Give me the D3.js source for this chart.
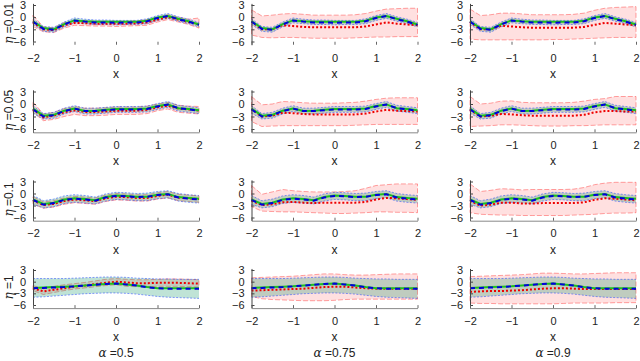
<!DOCTYPE html>
<html><head><meta charset="utf-8">
<script src="https://cdn.jsdelivr.net/npm/d3@7"></script>
<style>
body{margin:0;background:#fff}
svg{display:block}
text{font-family:"Liberation Sans",Arial,Helvetica,sans-serif;fill:#222}
</style>
</head><body>
<svg id="chart" width="640" height="361"></svg>
<script>
// ---------- data ----------
const xs = [-2,-1.75,-1.5,-1.25,-1,-0.75,-0.5,-0.25,0,0.25,0.5,0.75,1,1.25,1.5,1.75,2];
const xTicks = [-2,-1,0,1,2];
const yTicks = [3,0,-3,-6];
const etaLabels = ["0.01","0.05","0.1","1"];
const alphaLabels = ["0.5","0.75","0.9"];

// row 1 (eta = 0.01)
const green1  = [-1.0,-2.7,-3.0,-1.7,-0.8,-1.0,-1.1,-1.1,-1.1,-1.1,-1.1,-0.9,-0.1,0.3,-0.4,-1.0,-1.8];
const blue1   = [-1.1,-2.9,-3.1,-1.8,-0.8,-1.1,-1.3,-1.3,-1.4,-1.3,-1.3,-1.0,-0.2,0.3,-0.5,-1.1,-1.9];
const blueLo1 = [-1.8,-3.5,-3.7,-2.4,-1.4,-1.6,-1.8,-1.8,-1.9,-1.8,-1.8,-1.6,-0.8,-0.3,-1.0,-1.6,-2.4];
const blueHi1 = [-0.4,-2.3,-2.5,-1.2,-0.2,-0.5,-0.7,-0.7,-0.8,-0.8,-0.8,-0.4,0.4,0.9,0.1,-0.5,-1.3];
const red1a   = [-1.3,-3.0,-3.2,-2.0,-1.4,-1.5,-1.6,-1.6,-1.6,-1.6,-1.5,-1.3,-0.6,0.0,-0.6,-1.2,-1.8];
const redLo1a = [-2.3,-3.6,-3.8,-2.7,-2.0,-2.1,-2.2,-2.2,-2.3,-2.2,-2.1,-2.0,-1.2,-0.6,-1.2,-1.8,-2.7];
const redHi1a = [0.5,-2.4,-2.6,-1.3,-0.8,-0.9,-1.0,-1.0,-1.0,-1.0,-0.9,-0.6,0.0,0.6,0.0,-0.5,-0.2];
const red1b   = [-1.1,-3.0,-3.0,-2.0,-2.2,-2.4,-2.5,-2.5,-2.5,-2.5,-2.5,-2.3,-1.8,-1.3,-1.6,-1.8,-2.0];
const redLo1b = [-4.4,-5.0,-5.1,-5.0,-5.0,-5.1,-5.2,-5.2,-5.2,-5.2,-5.1,-5.0,-4.9,-4.9,-4.8,-4.8,-4.8];
const redHi1b = [1.8,0.3,0.5,0.8,0.9,0.7,0.5,0.5,0.5,0.5,0.6,0.9,1.5,2.0,2.1,2.2,2.2];
const red1c   = [-1.2,-3.0,-3.0,-2.1,-2.3,-2.5,-2.6,-2.6,-2.6,-2.6,-2.6,-2.4,-1.9,-1.4,-1.6,-1.8,-2.0];
const redLo1c = [-5.4,-5.6,-5.6,-5.6,-5.6,-5.6,-5.6,-5.6,-5.5,-5.5,-5.4,-5.3,-5.2,-5.1,-5.0,-5.0,-5.0];
const redHi1c = [2.0,0.4,0.6,1.0,1.0,0.8,0.6,0.6,0.6,0.6,0.7,1.0,1.7,2.2,2.4,2.5,2.6];

// row 2 (eta = 0.05)
const green2  = [-1.1,-2.8,-2.6,-1.6,-1.1,-1.7,-1.6,-1.4,-1.2,-1.2,-1.2,-1.1,-0.5,-0.1,-1.0,-1.2,-1.5];
const blue2   = [-1.3,-3.0,-2.7,-1.7,-1.1,-1.7,-1.7,-1.5,-1.3,-1.3,-1.3,-1.2,-0.6,-0.1,-1.0,-1.3,-1.6];
const blueLo2 = [-2.2,-3.6,-3.4,-2.4,-1.8,-2.4,-2.4,-2.2,-2.0,-2.0,-2.0,-1.9,-1.3,-0.8,-1.7,-2.0,-2.3];
const blueHi2 = [-0.4,-2.3,-2.0,-1.0,-0.4,-1.0,-1.0,-0.8,-0.6,-0.6,-0.6,-0.5,0.1,0.6,-0.3,-0.6,-0.9];
const red2a   = [-1.3,-3.2,-2.8,-2.0,-1.5,-1.9,-1.9,-1.8,-1.6,-1.6,-1.6,-1.4,-0.8,-0.4,-1.1,-1.3,-1.6];
const redLo2a = [-2.0,-4.0,-3.7,-3.0,-2.5,-2.8,-2.8,-2.7,-2.5,-2.5,-2.5,-2.3,-1.6,-1.2,-2.0,-2.2,-2.4];
const redHi2a = [0.5,-2.4,-2.0,-1.1,-0.6,-1.0,-1.0,-0.9,-0.7,-0.7,-0.7,-0.5,0.0,0.4,-0.3,-0.5,-0.6];
const red2b   = [-1.2,-3.0,-2.8,-2.1,-2.2,-2.4,-2.5,-2.5,-2.5,-2.5,-2.5,-2.3,-1.8,-1.4,-1.6,-1.7,-1.8];
const redLo2b = [-4.2,-5.4,-5.3,-5.2,-5.2,-5.2,-5.2,-5.2,-5.2,-5.2,-5.1,-5.0,-4.9,-4.9,-4.9,-4.9,-4.9];
const redHi2b = [1.8,-0.2,0.0,0.6,0.5,0.3,0.2,0.2,0.2,0.3,0.4,0.7,1.1,1.4,1.5,1.5,1.5];
const red2c   = [-1.4,-3.0,-2.8,-2.4,-2.5,-2.7,-2.8,-2.8,-2.8,-2.8,-2.8,-2.6,-2.0,-1.7,-1.7,-1.8,-1.8];
const redLo2c = [-5.4,-5.3,-5.2,-5.0,-5.0,-5.1,-5.2,-5.3,-5.3,-5.3,-5.2,-5.2,-5.1,-5.0,-5.0,-5.0,-5.0];
const redHi2c = [1.8,0.0,0.2,0.7,0.75,0.4,0.3,0.3,0.3,0.3,0.4,0.7,1.1,1.3,1.8,1.8,1.8];

// row 3 (eta = 0.1)
const green3  = [-1.5,-2.6,-2.3,-1.5,-1.2,-1.4,-1.7,-0.9,-0.5,-0.6,-0.8,-0.8,-0.3,-0.1,-0.9,-1.1,-1.3];
const blue3   = [-1.6,-2.8,-2.4,-1.6,-1.3,-1.5,-1.8,-1.0,-0.6,-0.7,-0.9,-0.8,-0.4,-0.2,-1.0,-1.3,-1.5];
const blueLo3 = [-2.7,-3.6,-3.3,-2.5,-2.2,-2.4,-2.6,-1.9,-1.5,-1.6,-1.8,-1.8,-1.3,-1.1,-1.9,-2.2,-2.4];
const blueHi3 = [-0.5,-1.8,-1.4,-0.6,-0.3,-0.5,-0.9,-0.1,0.3,0.2,0.0,0.1,0.5,0.7,0.0,-0.3,-0.5];
const red3a   = [-1.7,-2.9,-2.6,-1.9,-1.5,-1.7,-1.9,-1.2,-0.8,-0.9,-1.1,-1.1,-0.6,-0.3,-1.0,-1.2,-1.4];
const redLo3a = [-2.6,-3.7,-3.4,-2.7,-2.3,-2.5,-2.7,-2.0,-1.6,-1.7,-1.9,-1.9,-1.4,-1.1,-1.8,-2.0,-2.2];
const redHi3a = [-0.8,-2.1,-1.8,-1.1,-0.7,-0.9,-1.1,-0.4,0.0,-0.1,-0.3,-0.3,0.2,0.5,-0.2,-0.4,-0.6];
const red3b   = [-1.8,-2.9,-2.7,-2.2,-2.1,-2.3,-2.4,-2.3,-2.3,-2.3,-2.3,-2.1,-1.5,-1.1,-1.2,-1.4,-1.6];
const redLo3b = [-3.3,-4.4,-4.5,-4.6,-4.6,-4.7,-4.8,-4.9,-5.0,-5.0,-4.9,-4.8,-4.6,-4.6,-4.7,-4.7,-4.8];
const redHi3b = [2.0,-0.2,0.4,1.0,0.7,0.5,0.4,0.4,0.4,0.5,0.7,1.3,2.0,2.2,2.4,2.4,2.4];
const red3c   = [-1.9,-3.0,-2.8,-2.3,-2.3,-2.5,-2.5,-2.4,-2.4,-2.4,-2.4,-2.2,-1.6,-1.2,-1.3,-1.5,-1.7];
const redLo3c = [-4.8,-5.2,-5.3,-5.4,-5.4,-5.5,-5.5,-5.5,-5.5,-5.5,-5.4,-5.3,-5.2,-5.0,-4.9,-4.9,-4.8];
const redHi3c = [2.4,0.5,0.8,1.2,1.1,0.9,1.0,1.0,1.0,1.0,1.1,1.5,2.2,2.6,2.8,2.8,2.8];

// row 4 (eta = 1)
const green4  = [-1.6,-1.5,-1.4,-1.3,-1.2,-1.0,-0.8,-0.6,-0.5,-0.7,-1.0,-1.4,-1.7,-1.7,-1.7,-1.7,-1.7];
const blue4   = [-1.7,-1.6,-1.5,-1.4,-1.2,-1.0,-0.8,-0.6,-0.5,-0.7,-1.0,-1.4,-1.7,-1.8,-1.8,-1.8,-1.8];
const blueLo4 = [-4.0,-3.9,-3.7,-3.5,-3.3,-3.1,-3.0,-2.9,-2.9,-3.0,-3.2,-3.5,-3.8,-4.0,-4.1,-4.2,-4.3];
const blueHi4 = [0.8,0.8,0.8,0.8,0.9,1.0,1.1,1.2,1.2,1.1,0.9,0.8,0.7,0.7,0.6,0.6,0.6];
const red4a   = [-1.7,-2.5,-2.1,-1.7,-1.3,-1.0,-0.6,-0.3,0.0,-0.2,-0.4,-0.4,-0.3,-0.3,-0.3,-0.4,-0.5];
const redLo4a = [-2.3,-3.3,-2.8,-2.3,-1.9,-1.6,-1.3,-1.0,-0.8,-1.2,-1.3,-1.3,-1.2,-1.2,-1.2,-1.3,-1.4];
const redHi4a = [-1.0,-1.8,-1.2,-0.8,-0.5,-0.2,0.2,0.6,0.8,0.6,0.5,0.5,0.6,0.7,0.7,0.6,0.5];
const red4b   = [-2.3,-2.2,-2.1,-2.0,-1.9,-1.8,-1.6,-1.4,-1.3,-1.3,-1.5,-1.7,-1.8,-1.8,-1.8,-1.8,-1.8];
const redLo4b = [-3.8,-4.4,-4.6,-4.7,-4.8,-4.9,-4.9,-4.9,-4.8,-4.6,-4.5,-4.5,-4.5,-4.5,-4.5,-4.5,-4.5];
const redHi4b = [1.0,1.1,1.2,1.3,1.4,1.6,1.8,2.0,2.0,1.8,1.7,1.7,1.8,1.9,2.0,2.0,2.0];
const red4c   = [-2.6,-2.5,-2.4,-2.4,-2.3,-2.2,-2.0,-1.8,-1.7,-1.7,-1.8,-1.9,-1.9,-1.9,-1.9,-1.9,-1.9];
const redLo4c = [-5.5,-5.6,-5.6,-5.7,-5.7,-5.7,-5.7,-5.7,-5.7,-5.6,-5.5,-5.5,-5.5,-5.5,-5.4,-5.4,-5.4];
const redHi4c = [1.3,1.4,1.5,1.6,1.7,1.8,2.0,2.2,2.2,2.1,2.0,2.0,2.1,2.2,2.3,2.3,2.3];

const rows = [
  {green:green1, blue:blue1, blueLo:blueLo1, blueHi:blueHi1,
   red:[[red1a,redLo1a,redHi1a],[red1b,redLo1b,redHi1b],[red1c,redLo1c,redHi1c]]},
  {green:green2, blue:blue2, blueLo:blueLo2, blueHi:blueHi2,
   red:[[red2a,redLo2a,redHi2a],[red2b,redLo2b,redHi2b],[red2c,redLo2c,redHi2c]]},
  {green:green3, blue:blue3, blueLo:blueLo3, blueHi:blueHi3,
   red:[[red3a,redLo3a,redHi3a],[red3b,redLo3b,redHi3b],[red3c,redLo3c,redHi3c]]},
  {green:green4, blue:blue4, blueLo:blueLo4, blueHi:blueHi4,
   red:[[red4a,redLo4a,redHi4a],[red4b,redLo4b,redHi4b],[red4c,redLo4c,redHi4c]]}
];

// ---------- layout ----------
const colLeft = [33, 251.5, 470];
const colWidth = 166;
const rowY3 = [5, 91.5, 181.5, 270];     // pixel of y=3
const rowY6 = [41.5, 129, 217.5, 305];   // pixel of y=-6
const yMin = -6.8, yMax = 3.4;

const svg = d3.select("#chart");

rows.forEach((row, ri) => {
  const k = (rowY6[ri] - rowY3[ri]) / 9;
  const py = v => rowY3[ri] + (3 - v) * k;
  const y = d3.scaleLinear().domain([yMin, yMax]).range([py(yMin), py(yMax)]);

  for (let ci = 0; ci < 3; ci++) {
    const x = d3.scaleLinear().domain([-2, 2]).range([colLeft[ci], colLeft[ci] + colWidth]);
    const g = svg.append("g");
    const [rMean, rLo, rHi] = row.red[ci];

    const area = (lo, hi) => d3.area().x((d, i) => x(xs[i])).y0((d, i) => y(lo[i])).y1((d, i) => y(hi[i]))(xs);
    const line = arr => d3.line().x((d, i) => x(xs[i])).y((d, i) => y(arr[i]))(xs);
    const outline = (lo, hi) => {
      const pts = xs.map((d, i) => [x(d), y(hi[i])]).concat(xs.map((d, i) => [x(d), y(lo[i])]).reverse());
      return d3.line()(pts) + "Z";
    };

    // red band
    g.append("path").attr("d", area(rLo, rHi)).attr("fill", "#ff0000").attr("fill-opacity", 0.12).attr("stroke", "none");
    g.append("path").attr("d", outline(rLo, rHi)).attr("fill", "none")
      .attr("stroke", "#ff0000").attr("stroke-opacity", 0.45).attr("stroke-width", 0.8).attr("stroke-dasharray", "5,2");
    // blue band
    g.append("path").attr("d", area(row.blueLo, row.blueHi)).attr("fill", "#1a9a6a").attr("fill-opacity", 0.28).attr("stroke", "none");
    [row.blueLo, row.blueHi].forEach(arr => {
      g.append("path").attr("d", line(arr)).attr("fill", "none")
        .attr("stroke", "#2244ff").attr("stroke-opacity", 0.6).attr("stroke-width", 0.9).attr("stroke-dasharray", "2,1.5");
    });
    // red dotted mean
    g.append("path").attr("d", line(rMean)).attr("fill", "none")
      .attr("stroke", "#ee0000").attr("stroke-width", 2).attr("stroke-dasharray", "2,2");
    // green truth
    g.append("path").attr("d", line(row.green)).attr("fill", "none")
      .attr("stroke", "#1fc01f").attr("stroke-width", 2);
    // blue dashed estimate
    g.append("path").attr("d", line(row.blue)).attr("fill", "none")
      .attr("stroke", "#0000dd").attr("stroke-width", 2).attr("stroke-dasharray", "5,4");

    // axes
    const ya = g.append("g").attr("transform", `translate(${colLeft[ci]},0)`)
      .call(d3.axisLeft(y).tickValues(yTicks).tickFormat(d3.format("d")).tickSizeInner(-3).tickSizeOuter(0).tickPadding(7));
    ya.select(".domain").attr("stroke", "#444");
    ya.selectAll(".tick line").attr("stroke", "#444");
    ya.selectAll("text").attr("font-size", 11).attr("font-family", null).attr("fill", "#222");

    const xa = g.append("g").attr("transform", `translate(0,${y(yMin)})`)
      .call(d3.axisBottom(x).tickValues(xTicks).tickFormat(d3.format("d")).tickSizeInner(-3).tickSizeOuter(0).tickPadding(9));
    xa.select(".domain").attr("stroke", ri === 0 ? "none" : "#888");
    xa.selectAll(".tick line").attr("stroke", "#666");
    xa.selectAll("text").attr("font-size", 11).attr("font-family", null).attr("fill", "#222");

    g.append("text").attr("x", colLeft[ci] + colWidth / 2).attr("y", y(yMin) + 33)
      .attr("text-anchor", "middle").attr("font-size", 12).text("x");

    if (ri === 3) {
      const t = svg.append("text").attr("x", colLeft[ci] + colWidth / 2).attr("y", 357)
        .attr("text-anchor", "middle").attr("font-size", 12);
      t.append("tspan").attr("font-family", "'DejaVu Serif','Liberation Serif',serif").attr("font-style", "italic").text("α");
      t.append("tspan").text(" =" + alphaLabels[ci]);
    }
  }

  const cy = (py(3) + py(-6)) / 2;
  const t = svg.append("text").attr("transform", `translate(13,${cy}) rotate(-90)`)
    .attr("text-anchor", "middle").attr("font-size", 12);
  t.append("tspan").attr("font-family", "'DejaVu Serif','Liberation Serif',serif").attr("font-style", "italic").text("η");
  t.append("tspan").text(" =" + etaLabels[ri]);
});
</script>
</body></html>
